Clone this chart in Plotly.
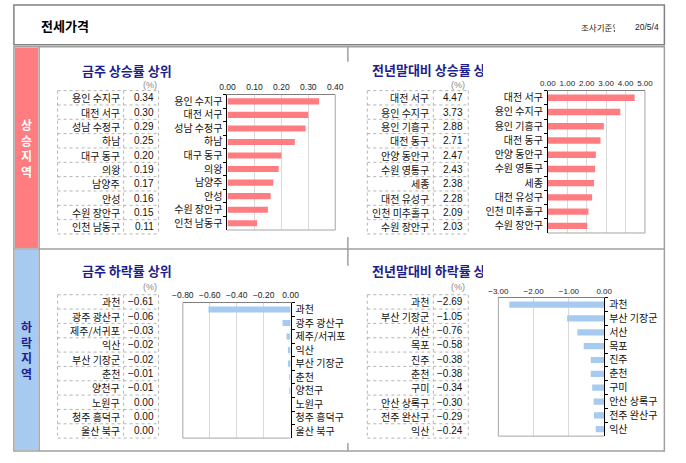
import plotly.graph_objects as go

W, H = 686, 463

# ---------------- data ----------------
page_title = "전세가격"
date_label = "조사기준일"
date_value = "20/5/4"
strip_up = "상승지역"
strip_dn = "하락지역"
unit_label = "(%)"

title_up_week = "금주 상승률 상위"
cat_up_week = ["용인 수지구", "대전 서구", "성남 수정구", "하남", "대구 동구",
               "의왕", "남양주", "안성", "수원 장안구", "인천 남동구"]
val_up_week = [0.34, 0.30, 0.29, 0.25, 0.20, 0.19, 0.17, 0.16, 0.15, 0.11]

title_up_year = "전년말대비 상승률 상위"
cat_up_year = ["대전 서구", "용인 수지구", "용인 기흥구", "대전 동구", "안양 동안구",
               "수원 영통구", "세종", "대전 유성구", "인천 미추홀구", "수원 장안구"]
val_up_year = [4.47, 3.73, 2.88, 2.71, 2.47, 2.43, 2.38, 2.28, 2.09, 2.03]

title_dn_week = "금주 하락률 상위"
cat_dn_week = ["과천", "광주 광산구", "제주/서귀포", "익산", "부산 기장군",
               "춘천", "양천구", "노원구", "청주 흥덕구", "울산 북구"]
val_dn_week = [-0.61, -0.06, -0.03, -0.02, -0.02, -0.01, -0.01, 0.00, 0.00, 0.00]

title_dn_year = "전년말대비 하락률 상위"
cat_dn_year = ["과천", "부산 기장군", "서산", "목포", "진주",
               "춘천", "구미", "안산 상록구", "전주 완산구", "익산"]
val_dn_year = [-2.69, -1.05, -0.76, -0.58, -0.38, -0.38, -0.34, -0.30, -0.29, -0.24]

# ---------------- styles ----------------
KR = "Noto Sans CJK KR, sans-serif"
NUM = "Liberation Sans, Arial, sans-serif"
RED = "#FF7C80"
BLUE = "#A6CAF0"
NAVY = "#1e1e8c"
GRID = "#D9D9D9"
FRAME = "#A6A6A6"
BORDER = "#A0A0A0"


def px(x):
    return x / W


def py(y):
    return 1 - y / H


fig = go.Figure()
shapes = []
annotations = []


def line(x0, y0, x1, y1, color=BORDER, width=1, dash="solid", layer="below"):
    shapes.append(dict(type="line", xref="paper", yref="paper",
                       x0=px(x0), y0=py(y0), x1=px(x1), y1=py(y1),
                       line=dict(color=color, width=width, dash=dash), layer=layer))


def rect(x0, y0, x1, y1, fill=None, color=BORDER, width=1, layer="below"):
    shapes.append(dict(type="rect", xref="paper", yref="paper",
                       x0=px(x0), y0=py(y0), x1=px(x1), y1=py(y1),
                       fillcolor=fill if fill else "rgba(0,0,0,0)",
                       line=dict(color=color, width=width), layer=layer))


def text(x, y, s, size=10, color="#000", family=KR, xanchor="left", yanchor="middle",
         bold=False, width=None):
    a = dict(xref="paper", yref="paper", x=px(x), y=py(y), text=(f"<b>{s}</b>" if bold else s),
             showarrow=False, xanchor=xanchor, yanchor=yanchor,
             font=dict(size=size, color=color, family=family), borderpad=0)
    if width is not None:
        a["width"] = width
        a["align"] = "left"
    annotations.append(a)


# ---------------- page frame ----------------
rect(3, 3, 673, 43, color="#808080", width=1.5)
text(30, 24, page_title, size=13, bold=True)
text(586, 25, date_label, size=8.5, color="#222", width=34)
text(668, 25, date_value, size=8.5, color="#222", family=NUM, xanchor="right")

rect(4, 46, 28, 247, fill=RED, color=RED, width=0)
rect(4, 249, 28, 450, fill=BLUE, color=BLUE, width=0)
rect(3, 45, 673, 451, color=BORDER, width=1.5)
line(29, 45, 29, 451, width=1.5)
line(3, 248, 673, 248, width=1.5)
for (a, b) in [(45, 60), (236, 265), (443, 451)]:
    line(347, a, 347, b, width=1.5)

text(16, 147, "<br>".join(list(strip_up)), size=12, color="#FFFFFF", xanchor="center", bold=True)
text(16, 350, "<br>".join(list(strip_dn)), size=12, color=NAVY, xanchor="center", bold=True)

# ---------------- tables ----------------
def table(x0, xs, x1, y0, y1, cats, vals, title, title_xy, title_width, unit_x, unit_y):
    n = len(cats)
    h = (y1 - y0) / n
    for i in range(n + 1):
        yy = y0 + i * h
        line(x0, yy, x1, yy, color="#B4B4B4", dash="dot")
    for xx in (x0, xs, x1):
        line(xx, y0, xx, y1, color="#B4B4B4", dash="dot")
    for i, (c, v) in enumerate(zip(cats, vals)):
        yc = y0 + (i + 0.5) * h
        text(xs - 3, yc, c, size=10, color="#111", xanchor="right")
        text(x1 - 4, yc, f"{v:.2f}".replace("-", "−") if v < 0 else f"{v:.2f}",
             size=10, color="#111", family=NUM, xanchor="right")
    text(title_xy[0], title_xy[1], title, size=13, color=NAVY, bold=True, width=title_width)
    text(unit_x, unit_y, unit_label, size=9, color="#8a8a8a", family=NUM, xanchor="right")


table(48, 116, 152, 89, 233, cat_up_week, val_up_week, title_up_week, (72, 69), None, 151, 83)
table(367, 435, 471, 89, 233, cat_up_year, val_up_year, title_up_year, (371, 68), 111, 469, 83)
table(48, 116, 152, 294, 438, cat_dn_week, val_dn_week, title_dn_week, (72, 270), None, 151, 286)
table(367, 435, 471, 294, 438, cat_dn_year, val_dn_year, title_dn_year, (371, 270), 111, 469, 286)

# ---------------- bar charts ----------------
charts = [
    # (suffix, cats, vals, color, x-range, dtick, px box, y side, tick font size)
    ("", cat_up_week, val_up_week, RED, [0, 0.4], 0.1, (223, 93, 334, 229), "left", 8.5),
    ("2", cat_up_year, val_up_year, RED, [0, 5], 1, (553, 89, 653, 232), "left", 8),
    ("3", cat_dn_week, val_dn_week, BLUE, [-0.8, 0], 0.2, (177, 302, 288, 438), "right", 8.5),
    ("4", cat_dn_year, val_dn_year, BLUE, [-3, 0], 1, (502, 297, 611, 436), "right", 8),
]

layout_axes = {}
for suf, cats, vals, col, xr, dt, (bx0, by0, bx1, by1), side, tfs in charts:
    xa = "x" + suf
    ya = "y" + suf
    fig.add_trace(go.Bar(x=vals, y=cats, orientation="h", marker=dict(color=col, line=dict(width=0)),
                         xaxis=xa, yaxis=ya, showlegend=False, hoverinfo="skip"))
    layout_axes["xaxis" + suf] = dict(
        domain=[px(bx0), px(bx1)], anchor=ya, side="top", range=xr, dtick=dt,
        tickformat=".2f", showgrid=True, gridcolor=GRID, gridwidth=1,
        showline=True, linecolor="#7F7F7F", linewidth=1, ticks="", zeroline=False,
        tickfont=dict(size=tfs, family=NUM, color="#222"), fixedrange=True)
    layout_axes["yaxis" + suf] = dict(
        domain=[py(by1), py(by0)], anchor=xa, side=side, type="category",
        autorange="reversed", showline=True, linecolor="#000", linewidth=1,
        ticks="outside", ticklen=3, tickcolor="#000", tickson="boundaries",
        showgrid=False, zeroline=False, ticklabelstandoff=2,
        tickfont=dict(size=10, family=KR, color="#111"), fixedrange=True)
    if side == "left":
        line(bx1, by0, bx1, by1, color=FRAME, layer="above")
    else:
        line(bx0, by0, bx0, by1, color=FRAME, layer="above")
    line(bx0, by1, bx1, by1, color=FRAME, layer="above")

fig.update_layout(
    width=W, height=H, autosize=False,
    margin=dict(l=0, r=0, t=0, b=0, pad=0),
    paper_bgcolor="white", plot_bgcolor="white",
    bargap=0.55, showlegend=False,
    shapes=shapes, annotations=annotations,
    font=dict(family=KR, size=10, color="#111"),
    **layout_axes,
)

fig.write_html(
    "out.html",
    config={"displayModeBar": False, "staticPlot": True},
    post_script="document.body.style.margin='0';document.body.style.padding='0';"
                "document.body.style.overflow='hidden';",
)
